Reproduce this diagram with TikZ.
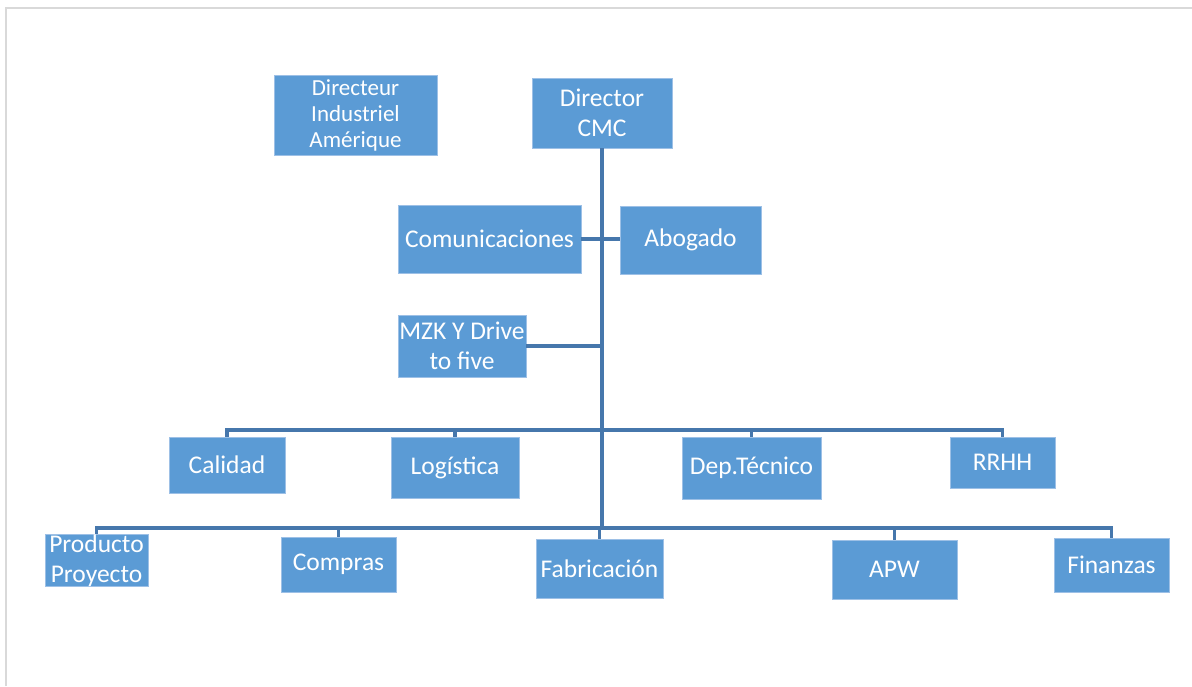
\documentclass[tikz,border=0pt]{standalone}
\usepackage{fontspec}
\setmainfont{Carlito}
\definecolor{boxblue}{HTML}{5B9BD5}
\definecolor{boxedge}{HTML}{9DC0E6}
\definecolor{linkblue}{HTML}{4677AC}
\definecolor{framegray}{HTML}{D9D9D9}
\begin{document}
\begin{tikzpicture}[x=1pt,y=-1pt,
  box/.style={fill=boxblue, draw=boxedge, line width=0.8pt, text=white,
    inner sep=0pt, align=center, font=\fontsize{25.5}{30}\selectfont},
  conn/.style={draw=linkblue, line width=3.2pt},
  framerule/.style={draw=framegray, line width=2pt}]
\useasboundingbox (0,0) rectangle (1192,686);
% page frame
\draw[framerule] (5.5,686) -- (5.5,7.5) -- (1192,7.5);

% top level
\node[box, minimum width=163pt, minimum height=80pt,
  font=\fontsize{23}{26}\selectfont] (dia) at (355.5,115) {Directeur\\Industriel\\Amérique};
\node[box, minimum width=140pt, minimum height=70pt] (dir) at (602,113) {Director\\CMC};

% staff
\node[box, minimum width=183pt, minimum height=68pt] (com) at (489.5,239) {Comunicaciones};
\node[box, minimum width=141pt, minimum height=68pt] (abo) at (690.5,240) {Abogado};
\node[box, minimum width=128pt, minimum height=62pt] (mzk) at (462,346) {MZK Y Drive\\to five};

% first row of departments
\node[box, minimum width=116pt, minimum height=56pt] (cal) at (227,465) {Calidad};
\node[box, minimum width=128pt, minimum height=61pt] (log) at (455,467.5) {Logística};
\node[box, minimum width=139pt, minimum height=62pt] (dep) at (751.5,468) {Dep.Técnico};
\node[box, minimum width=105pt, minimum height=51pt] (rrhh) at (1002.5,462.5) {RRHH};

% second row of departments
\node[box, minimum width=103pt, minimum height=51pt] (pro) at (96.5,560.5) {Producto\\Proyecto};
\node[box, minimum width=115pt, minimum height=55pt] (comp) at (338.5,564.5) {Compras};
\node[box, minimum width=127pt, minimum height=59pt] (fab) at (599.5,568.5) {Fabricación};
\node[box, minimum width=125pt, minimum height=59pt] (apw) at (894.5,569.5) {APW};
\node[box, minimum width=115pt, minimum height=54pt] (fin) at (1111.5,565) {Finanzas};

% bus levels on the trunk
\coordinate (b1) at (602,430);
\coordinate (b2) at (602,528);

% trunk and staff links
\draw[conn] (dir.south) -- (b2);
\draw[conn] (com.east) -- (com.east -| abo.west);
\draw[conn] (mzk.east) -- (mzk.east -| dir.south);

% first row links
\draw[conn] (b1) -| (cal.north);
\draw[conn] (b1) -| (log.north);
\draw[conn] (b1) -| (dep.north);
\draw[conn] (b1) -| (rrhh.north);

% second row links
\draw[conn] (b2) -| (pro.north);
\draw[conn] (b2) -| (comp.north);
\draw[conn] (b2) -| (fab.north);
\draw[conn] (b2) -| (apw.north);
\draw[conn] (b2) -| (fin.north);
\end{tikzpicture}
\end{document}
